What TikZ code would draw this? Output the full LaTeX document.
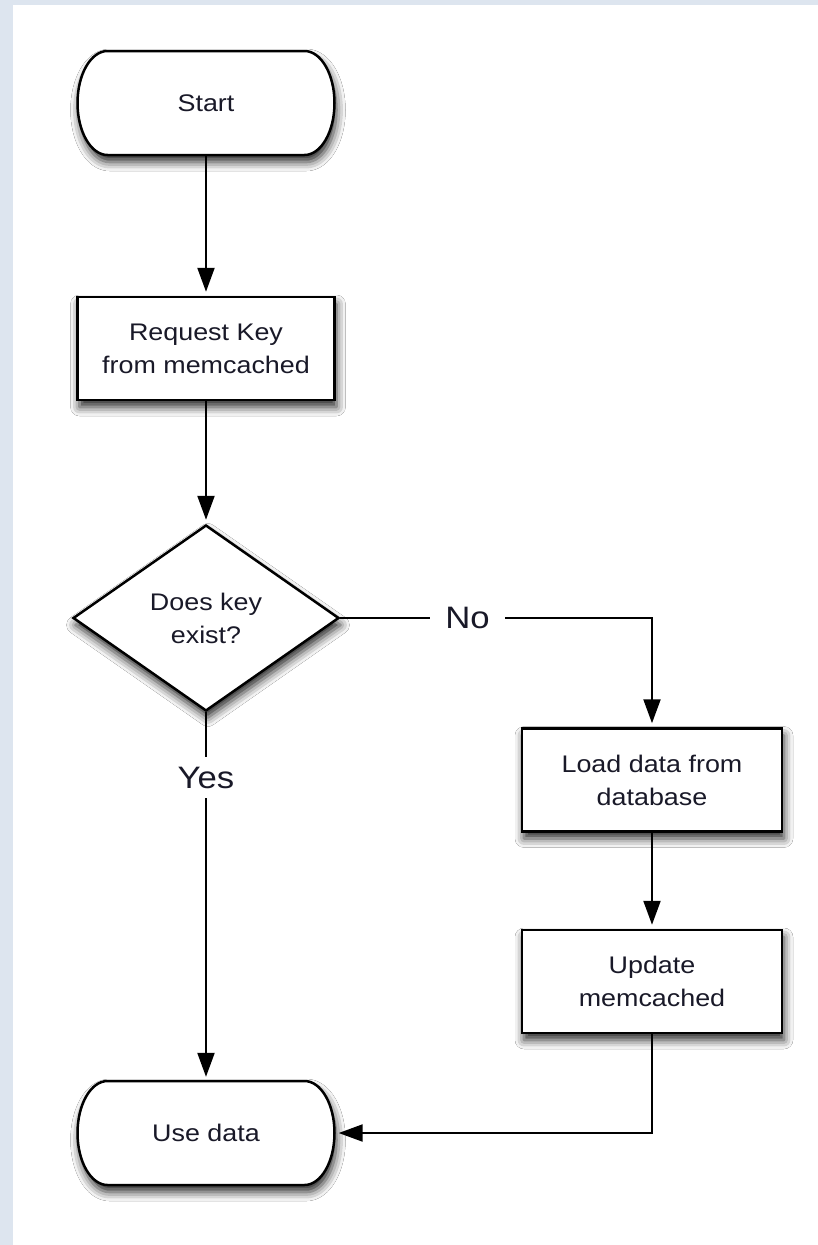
\documentclass[tikz,border=0pt]{standalone}
\usepackage{fontspec}
\setmainfont{Liberation Sans}[FakeStretch=1.12]
\usetikzlibrary{shapes.geometric,arrows.meta,shadows.blur}
\definecolor{bgblue}{RGB}{221,229,239}
\definecolor{txt}{RGB}{25,25,40}
\begin{document}
\begin{tikzpicture}[x=1pt,y=-1pt,
  shad/.style={blur shadow={shadow xshift=2pt,shadow yshift=-7pt,shadow blur radius=9pt,shadow opacity=85}},
  procbox/.style={rectangle,draw=black,line width=2.5pt,fill=white,shad,minimum width=257pt,minimum height=103pt,inner sep=0pt,align=center,text=txt,font={\fontsize{24}{33}\selectfont}},
  termbox/.style={rectangle,minimum width=257pt,minimum height=104pt,inner sep=0pt,align=center,text=txt,font={\fontsize{24}{33}\selectfont}},
  decbox/.style={diamond,draw=black,line width=2.5pt,fill=white,shad,minimum width=266pt,minimum height=186pt,inner sep=0pt,align=center,text=txt,font={\fontsize{24}{33}\selectfont}},
  lbl/.style={inner sep=0pt,text=txt,font={\fontsize{31}{36}\selectfont}},
  conn/.style={draw=black,line width=2.2pt},
  arr/.style={conn,-{Triangle[length=24pt,width=17pt]},shorten >=4pt},
  termline/.style={draw=black,line width=2.5pt,fill=white,shad}
]
\fill[bgblue] (0,0) rectangle (818,1245);
\fill[white] (13,5) rectangle (818,1245);
\useasboundingbox (0,0) rectangle (818,1245);

\coordinate (startc) at (206,103);
\coordinate (usec) at (206,1133);
\foreach \c in {startc,usec}
  \path[termline] ([xshift=-98.5pt,yshift=52pt]\c) -- ([xshift=98.5pt,yshift=52pt]\c)
    arc[start angle=90,end angle=-90,x radius=30pt,y radius=52pt]
    -- ([xshift=-98.5pt,yshift=-52pt]\c)
    arc[start angle=270,end angle=90,x radius=30pt,y radius=52pt] -- cycle;

\node[termbox] (start) at (startc) {Start};
\node[procbox] (req) at (206,348.5) {Request Key\\from memcached};
\node[decbox] (dec) at (206,618) {Does key\\exist?};
\node[lbl,minimum width=75pt] (no) at (467.5,618) {No};
\node[lbl,minimum height=41pt] (yes) at (206,777.5) {Yes};
\node[procbox,minimum width=260pt] (load) at (652,780) {Load data from\\database};
\node[procbox,minimum width=260pt] (upd) at (652,981.5) {Update\\memcached};
\node[termbox] (use) at (usec) {Use data};

\draw[arr] (start.south) -- (req.north);
\draw[arr] (req.south) -- (dec.north);
\draw[conn] (dec.east) -- (no.west);
\draw[arr] (no.east) -| (load.north);
\draw[conn] (dec.south) -- (yes.north);
\draw[arr] (yes.south) -- (use.north);
\draw[arr] (load.south) -- (upd.north);
\draw[arr] (upd.south) |- (use.east);
\end{tikzpicture}
\end{document}
